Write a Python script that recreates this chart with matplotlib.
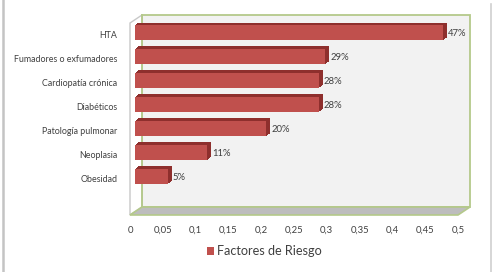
import matplotlib
matplotlib.use("Agg")
import matplotlib.pyplot as plt
import matplotlib.transforms as mtransforms
from matplotlib.patches import Polygon, Rectangle
from matplotlib.lines import Line2D

categories = ["HTA", "Fumadores o exfumadores", "Cardiopatía crónica", "Diabéticos",
              "Patología pulmonar", "Neoplasia", "Obesidad"]
values = [0.47, 0.29, 0.28, 0.28, 0.20, 0.11, 0.05]
value_labels = ["47%", "29%", "28%", "28%", "20%", "11%", "5%"]
xticks = [0, 0.05, 0.1, 0.15, 0.2, 0.25, 0.3, 0.35, 0.4, 0.45, 0.5]
xtick_labels = ["0", "0,05", "0,1", "0,15", "0,2", "0,25", "0,3", "0,35", "0,4", "0,45", "0,5"]
series_name = "Factores de Riesgo"

plt.rcParams['font.family'] = ['Lato', 'DejaVu Sans']

W, H = 497, 272
DPI = 100
fig = plt.figure(figsize=(W / DPI, H / DPI), dpi=DPI)
fig.patch.set_facecolor("white")

def fp(px, py):
    return (px / W, 1 - py / H)

# front plane of the plot
FX0, FX1, FY0, FY1 = 130, 458, 23, 215
DDX, DDY = 12, 8  # depth offset (pixels, right / up)

ax = fig.add_axes([FX0 / W, 1 - FY1 / H, (FX1 - FX0) / W, (FY1 - FY0) / H])
ax.set_xlim(0, 0.5)
ax.set_ylim(len(categories) - 0.5 + 1, -0.5)
ax.patch.set_visible(False)
for s in ax.spines.values():
    s.set_visible(False)

green = "#B4C98A"
# back wall
back = Polygon([fp(FX0 + DDX, FY0 - DDY), fp(FX1 + DDX, FY0 - DDY),
                fp(FX1 + DDX, FY1 - DDY), fp(FX0 + DDX, FY1 - DDY)],
               closed=True, transform=fig.transFigure, facecolor="#F2F2F2",
               edgecolor=green, linewidth=1.3, clip_on=False, zorder=0)
ax.add_artist(back)
# left wall
left = Polygon([fp(FX0, FY0), fp(FX0 + DDX, FY0 - DDY), fp(FX0 + DDX, FY1 - DDY), fp(FX0, FY1)],
               closed=True, transform=fig.transFigure, facecolor="white",
               edgecolor="#C8C8C8", linewidth=1.0, clip_on=False, zorder=0.5)
ax.add_artist(left)
ax.add_artist(Line2D([fp(FX0 + DDX, 0)[0]] * 2, [fp(0, FY0 - DDY)[1], fp(0, FY1 - DDY)[1]],
                     transform=fig.transFigure, color=green, linewidth=1.3, zorder=0.6, clip_on=False))
# floor
floor = Polygon([fp(FX0, FY1), fp(FX1, FY1), fp(FX1 + DDX, FY1 - DDY), fp(FX0 + DDX, FY1 - DDY)],
                closed=True, transform=fig.transFigure, facecolor="#BDBDBD",
                edgecolor=green, linewidth=1.2, clip_on=False, zorder=0.7)
ax.add_artist(floor)

# bars with 3D effect
ypos = list(range(len(categories)))
front_off = (5, 2.5)
depth = (4, 3)
nsteps = 6
for k in range(nsteps, -1, -1):
    dx = front_off[0] + depth[0] * k / nsteps
    dy = front_off[1] + depth[1] * k / nsteps
    tr = ax.transData + mtransforms.ScaledTranslation(dx / DPI, dy / DPI, fig.dpi_scale_trans)
    color = "#C0504D" if k == 0 else "#8E2F2D"
    ax.barh(ypos, values, height=0.63, color=color, transform=tr, zorder=2 + (nsteps - k) * 0.01,
            linewidth=0)

for y, v, lab in zip(ypos, values, value_labels):
    ax.annotate(lab, xy=(v, y), xytext=(10, 1.5), textcoords="offset pixels",
                ha="left", va="center", fontsize=6.8, color="#404040", zorder=5)

ax.set_yticks(ypos)
ax.set_yticklabels(categories, fontsize=6.4, color="#404040")
ax.set_xticks(xticks)
ax.set_xticklabels(xtick_labels, fontsize=6.8, color="#404040")
ax.tick_params(axis="y", length=0, pad=9)
ax.tick_params(axis="x", length=0, pad=8)

# legend
fig.patches.append(Rectangle(fp(207, 255), 7 / W, 8 / H, transform=fig.transFigure,
                             facecolor="#C0504D", edgecolor="none"))
fig.text(217 / W, 1 - 251 / H, series_name, fontsize=9.1, color="#404040",
         ha="left", va="center")

# outer frame lines
fig.add_artist(Line2D([2.5 / W] * 2, [0, 1], transform=fig.transFigure, color="#C4C4C4", linewidth=1.8))
fig.add_artist(Line2D([491 / W] * 2, [0, 1 - 4 / H], transform=fig.transFigure, color="#D0D0D0", linewidth=1.2))

fig.savefig("out.png", dpi=DPI)
